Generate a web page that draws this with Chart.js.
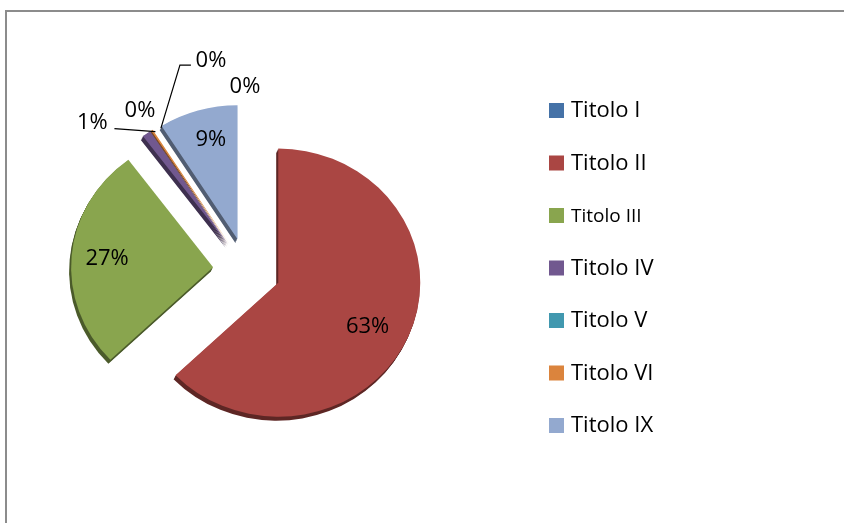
<!DOCTYPE html>
<html>
<head>
<meta charset="utf-8">
<script src="https://cdn.jsdelivr.net/npm/chart.js@4.4.1/dist/chart.umd.min.js"></script>
<style>
  html, body { margin: 0; padding: 0; background: #fff; }
  #wrap { position: relative; width: 844px; height: 523px; }
</style>
</head>
<body>
<div id="wrap"><canvas id="pieChart" width="844" height="523"></canvas></div>
<script>
// data
const categories = ['Titolo I', 'Titolo II', 'Titolo III', 'Titolo IV', 'Titolo V', 'Titolo VI', 'Titolo IX'];
const values = [0, 63, 27, 1, 0, 0.2, 9];
const sliceColors = ['#4572A7', '#AA4643', '#89A54E', '#71588F', '#4198AF', '#DB843D', '#93A9CF'];

// look of the old office 3d pie
const EXPLODE = 34;
const TILT = 0.944;
const DEPTH = 4;
const FONT = '"Open Sans", "Liberation Sans", sans-serif';

// label placement per slice: f = fraction of radius, dx/dy nudge, leader = polyline relative to the text centre
const labelStyle = [
  { f: 1.0, dx: -2, dy: -17 },
  { f: 0.7, dx: -2, dy: 7 },
  { f: 0.7, dx: -7, dy: -1 },
  { f: 1.0, dx: -54, dy: -11, leader: [[22, 6], [63, 9]] },
  { f: 1.0, dx: -11, dy: -20 },
  { f: 1.0, dx: 59, dy: -69, leader: [[-20, 4], [-31, 4], [-50, 67]] },
  { f: 0.7, dx: 1, dy: -9 }
];
const legendFontSizes = [22, 22, 19, 22, 22, 22, 22];

function darken(hex, k) {
  const n = parseInt(hex.slice(1), 16);
  const r = Math.round(((n >> 16) & 255) * k);
  const g = Math.round(((n >> 8) & 255) * k);
  const b = Math.round((n & 255) * k);
  return `rgb(${r},${g},${b})`;
}

const framePlugin = {
  id: 'frame',
  beforeDraw(chart) {
    const ctx = chart.ctx;
    ctx.save();
    ctx.strokeStyle = '#8c8c8c';
    ctx.lineWidth = 2;
    ctx.beginPath();
    ctx.moveTo(6, 530);
    ctx.lineTo(6, 11);
    ctx.lineTo(850, 11);
    ctx.stroke();
    ctx.restore();
  }
};

// draws every slice pulled out from the centre, with a dark extruded edge
const explodePlugin = {
  id: 'explode3d',
  beforeDatasetDraw(chart, args) {
    const ctx = chart.ctx;
    const arcs = args.meta.data;
    const cy = arcs[0].y;
    ctx.save();
    ctx.translate(0, cy);
    ctx.scale(1, TILT);
    ctx.translate(0, -cy);
    for (let k = DEPTH; k >= 0; k--) {
      arcs.forEach((arc, i) => {
        const mid = (arc.startAngle + arc.endAngle) / 2;
        const saved = arc.options;
        if (k > 0) {
          arc.options = Object.assign({}, saved, { backgroundColor: darken(sliceColors[i], 0.55) });
        }
        ctx.save();
        ctx.translate(Math.cos(mid) * EXPLODE - k * 0.5, Math.sin(mid) * EXPLODE + k * 1.0 / TILT);
        arc.draw(ctx);
        ctx.restore();
        arc.options = saved;
      });
    }
    ctx.restore();
    return false;
  },
  afterDatasetsDraw(chart) {
    const ctx = chart.ctx;
    const arcs = chart.getDatasetMeta(0).data;
    const total = values.reduce((a, b) => a + b, 0);
    ctx.save();
    ctx.font = `22px ${FONT}`;
    ctx.fillStyle = '#000';
    ctx.strokeStyle = '#000';
    ctx.lineWidth = 1.2;
    ctx.textAlign = 'center';
    ctx.textBaseline = 'middle';
    arcs.forEach((arc, i) => {
      const st = labelStyle[i];
      const mid = (arc.startAngle + arc.endAngle) / 2;
      const dist = EXPLODE + st.f * arc.outerRadius;
      const x = arc.x + Math.cos(mid) * dist + st.dx;
      const y = arc.y + Math.sin(mid) * dist * TILT + st.dy;
      ctx.fillText(Math.round(values[i] / total * 100) + '%', x, y);
      if (st.leader) {
        ctx.beginPath();
        st.leader.forEach((p, j) => j ? ctx.lineTo(x + p[0], y + p[1]) : ctx.moveTo(x + p[0], y + p[1]));
        ctx.stroke();
      }
    });
    ctx.restore();
  }
};

const legendPlugin = {
  id: 'sideLegend',
  afterDraw(chart) {
    const ctx = chart.ctx;
    ctx.save();
    ctx.textAlign = 'left';
    ctx.textBaseline = 'alphabetic';
    chart.data.labels.forEach((lab, i) => {
      const top = 103 + i * 52.5;
      ctx.fillStyle = sliceColors[i];
      ctx.fillRect(549, top, 15, 15);
      ctx.fillStyle = '#000';
      ctx.font = `${legendFontSizes[i]}px ${FONT}`;
      ctx.fillText(lab, 571, top + 14);
    });
    ctx.restore();
  }
};

new Chart(document.getElementById('pieChart').getContext('2d'), {
  type: 'pie',
  data: {
    labels: categories,
    datasets: [{
      data: values,
      backgroundColor: sliceColors,
      borderWidth: 0
    }]
  },
  options: {
    responsive: false,
    devicePixelRatio: 1,
    animation: false,
    radius: 142,
    layout: { padding: { left: 0, right: 350, top: 17, bottom: 0 } },
    plugins: {
      legend: { display: false },
      tooltip: { enabled: false }
    }
  },
  plugins: [framePlugin, explodePlugin, legendPlugin]
});
</script>
</body>
</html>
